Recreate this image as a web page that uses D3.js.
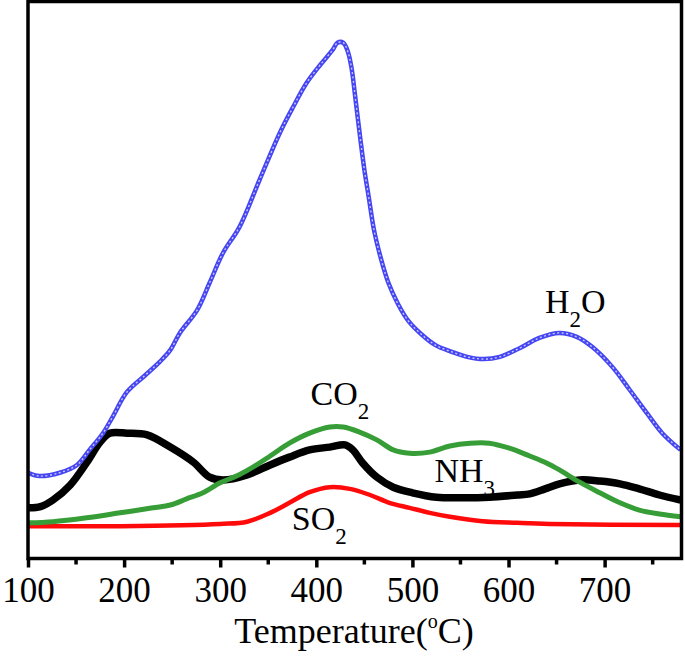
<!DOCTYPE html>
<html>
<head>
<meta charset="utf-8">
<script src="https://cdn.jsdelivr.net/npm/d3@7"></script>
<style>
  html, body { margin: 0; padding: 0; background: #fff; }
  svg { display: block; font-family: "Liberation Serif", "Times New Roman", serif; }
</style>
</head>
<body>
<div id="chart"></div>
<script>
// temperatures (°C) and intensities (a.u.)
const h2oT = [100,112,133,151,164,178,188,203,222,237,248,258,276,289,303,320,341,362,376,390,404,417,422,428,433,437,440,443,446,450,455,460,467,475,485,496,509,524,541,557,574,591,612,632,653,671,687,708,726,744,760,779];
const h2oV = [15.4,14.8,15.4,16.8,19.5,22.5,25.4,29.9,32.9,35.3,37.4,40.5,44.6,49.5,54.9,59.5,68.0,76.4,81.1,85.4,88.6,91.3,92.6,92.6,90.9,87.7,83.6,79.3,75.1,69.8,64.4,59.0,54.0,49.5,45.7,42.6,40.3,38.3,37.1,36.2,35.8,36.2,37.8,39.6,40.5,39.8,38.0,34.4,30.3,26.1,22.5,19.5];

const co2T = [100,126,161,196,230,248,265,282,300,317,334,352,372,393,414,428,445,463,480,497,518,539,560,580,601,622,640,653,674,695,716,736,757,779];
const co2V = [6.4,6.6,7.3,8.2,9.1,9.6,10.7,11.8,13.6,14.8,16.4,18.4,20.7,22.5,23.6,23.6,22.7,21.3,19.5,18.9,19.1,20.2,20.7,20.7,19.8,18.4,17.1,15.9,13.7,11.8,10.0,8.7,8.0,7.5];

const nh3T = [100,113,126,144,161,175,185,203,224,248,272,289,303,328,352,372,393,414,430,438,448,463,480,500,525,552,580,609,622,638,653,674,695,716,736,757,779];
const nh3V = [9.1,9.3,10.5,13.2,17.2,20.9,22.5,22.5,22.2,20.0,17.3,14.6,14.1,15.0,16.8,18.2,19.5,20.0,20.4,19.5,17.2,14.6,12.8,11.8,11.0,10.9,11.0,11.4,11.6,12.5,13.4,14.1,13.9,13.4,12.5,11.4,10.5];

const so2T = [100,196,300,328,352,372,393,414,435,456,476,497,518,539,573,609,643,779];
const so2V = [5.8,5.8,6.2,6.6,8.2,10.0,11.9,12.8,12.5,11.4,10.0,9.1,8.2,7.5,6.7,6.4,6.2,6.0];

const xTicks = [100,200,300,400,500,600,700];
const xMinorTicks = [150,250,350,450,550,650,750];

// label anchors in data units (T, intensity)
const labels = [
  {name: 'H', sub: '2', tail: 'O', t: 638, v: 44.1},
  {name: 'CO', sub: '2', tail: '', t: 394, v: 27.6},
  {name: 'NH', sub: '3', tail: '', t: 523, v: 13.7},
  {name: 'SO', sub: '2', tail: '', t: 374.5, v: 5.1}
];

const W = 685, H = 657;
const margin = {top: 1.5, left: 28, right: 3.5, bottom: 98.5};
const width = W - margin.left - margin.right;
const height = H - margin.top - margin.bottom;

const svg = d3.select('#chart').append('svg')
  .attr('width', W)
  .attr('height', H);

const g = svg.append('g')
  .attr('transform', 'translate(' + margin.left + ',' + margin.top + ')');

const x = d3.scaleLinear().domain([100, 780]).range([0, width]);
const y = d3.scaleLinear().domain([0, 100]).range([height, 0]);

g.append('clipPath').attr('id', 'clip')
  .append('rect').attr('width', width).attr('height', height);

const line = d3.line()
  .x(d => x(d[0]))
  .y(d => y(d[1]))
  .curve(d3.curveCatmullRom.alpha(0.5));

const zip = (a, b) => a.map((t, i) => [t, b[i]]);

const lines = g.append('g').attr('clip-path', 'url(#clip)');

// NH3
lines.append('path')
  .attr('d', line(zip(nh3T, nh3V)))
  .attr('fill', 'none')
  .attr('stroke', '#000')
  .attr('stroke-width', 7.5)
  .attr('stroke-linejoin', 'round');

// SO2
lines.append('path')
  .attr('d', line(zip(so2T, so2V)))
  .attr('fill', 'none')
  .attr('stroke', '#ff0a0a')
  .attr('stroke-width', 4.5);

// CO2
lines.append('path')
  .attr('d', line(zip(co2T, co2V)))
  .attr('fill', 'none')
  .attr('stroke', '#379e37')
  .attr('stroke-width', 5);

// H2O, drawn with hollow triangle look
lines.append('path')
  .attr('d', line(zip(h2oT, h2oV)))
  .attr('fill', 'none')
  .attr('stroke', '#4646f2')
  .attr('stroke-width', 4.5);
lines.append('path')
  .attr('d', line(zip(h2oT, h2oV)))
  .attr('fill', 'none')
  .attr('stroke', '#c8c8ff')
  .attr('stroke-width', 1.4)
  .attr('stroke-dasharray', '2,2.5');

// frame
g.append('rect')
  .attr('width', width)
  .attr('height', height)
  .attr('fill', 'none')
  .attr('stroke', '#000')
  .attr('stroke-width', 3.5);

// x axis
const xAxis = g.append('g')
  .attr('transform', 'translate(0,' + height + ')')
  .call(d3.axisBottom(x).tickValues(xTicks).tickSize(9).tickSizeOuter(0).tickFormat(d3.format('d')));
xAxis.select('.domain').remove();
xAxis.selectAll('line').attr('stroke', '#000').attr('stroke-width', 3.5);
xAxis.selectAll('text')
  .attr('y', 43.5)
  .attr('dy', null)
  .attr('fill', '#000')
  .style('font-family', '"Liberation Serif", serif')
  .style('font-size', '35px');

g.append('g')
  .attr('transform', 'translate(0,' + height + ')')
  .selectAll('line')
  .data(xMinorTicks)
  .enter().append('line')
    .attr('x1', d => x(d)).attr('x2', d => x(d))
    .attr('y1', 0).attr('y2', 6)
    .attr('stroke', '#000')
    .attr('stroke-width', 3.5);

// axis title
const title = svg.append('text')
  .attr('x', 354)
  .attr('y', 643)
  .attr('text-anchor', 'middle')
  .style('font-size', '36px')
  .attr('fill', '#000');
title.append('tspan').text('Temperature(');
title.append('tspan').attr('dy', -15).style('font-size', '20px').text('o');
title.append('tspan').attr('dy', 15).text('C)');

// series labels
labels.forEach(l => {
  const t = g.append('text')
    .attr('x', x(l.t))
    .attr('y', y(l.v))
    .style('font-size', '34px')
    .attr('fill', '#000');
  t.append('tspan').text(l.name);
  t.append('tspan').attr('dy', 14).style('font-size', '23px').text(l.sub);
  if (l.tail) t.append('tspan').attr('dy', -14).text(l.tail);
});
</script>
</body>
</html>
